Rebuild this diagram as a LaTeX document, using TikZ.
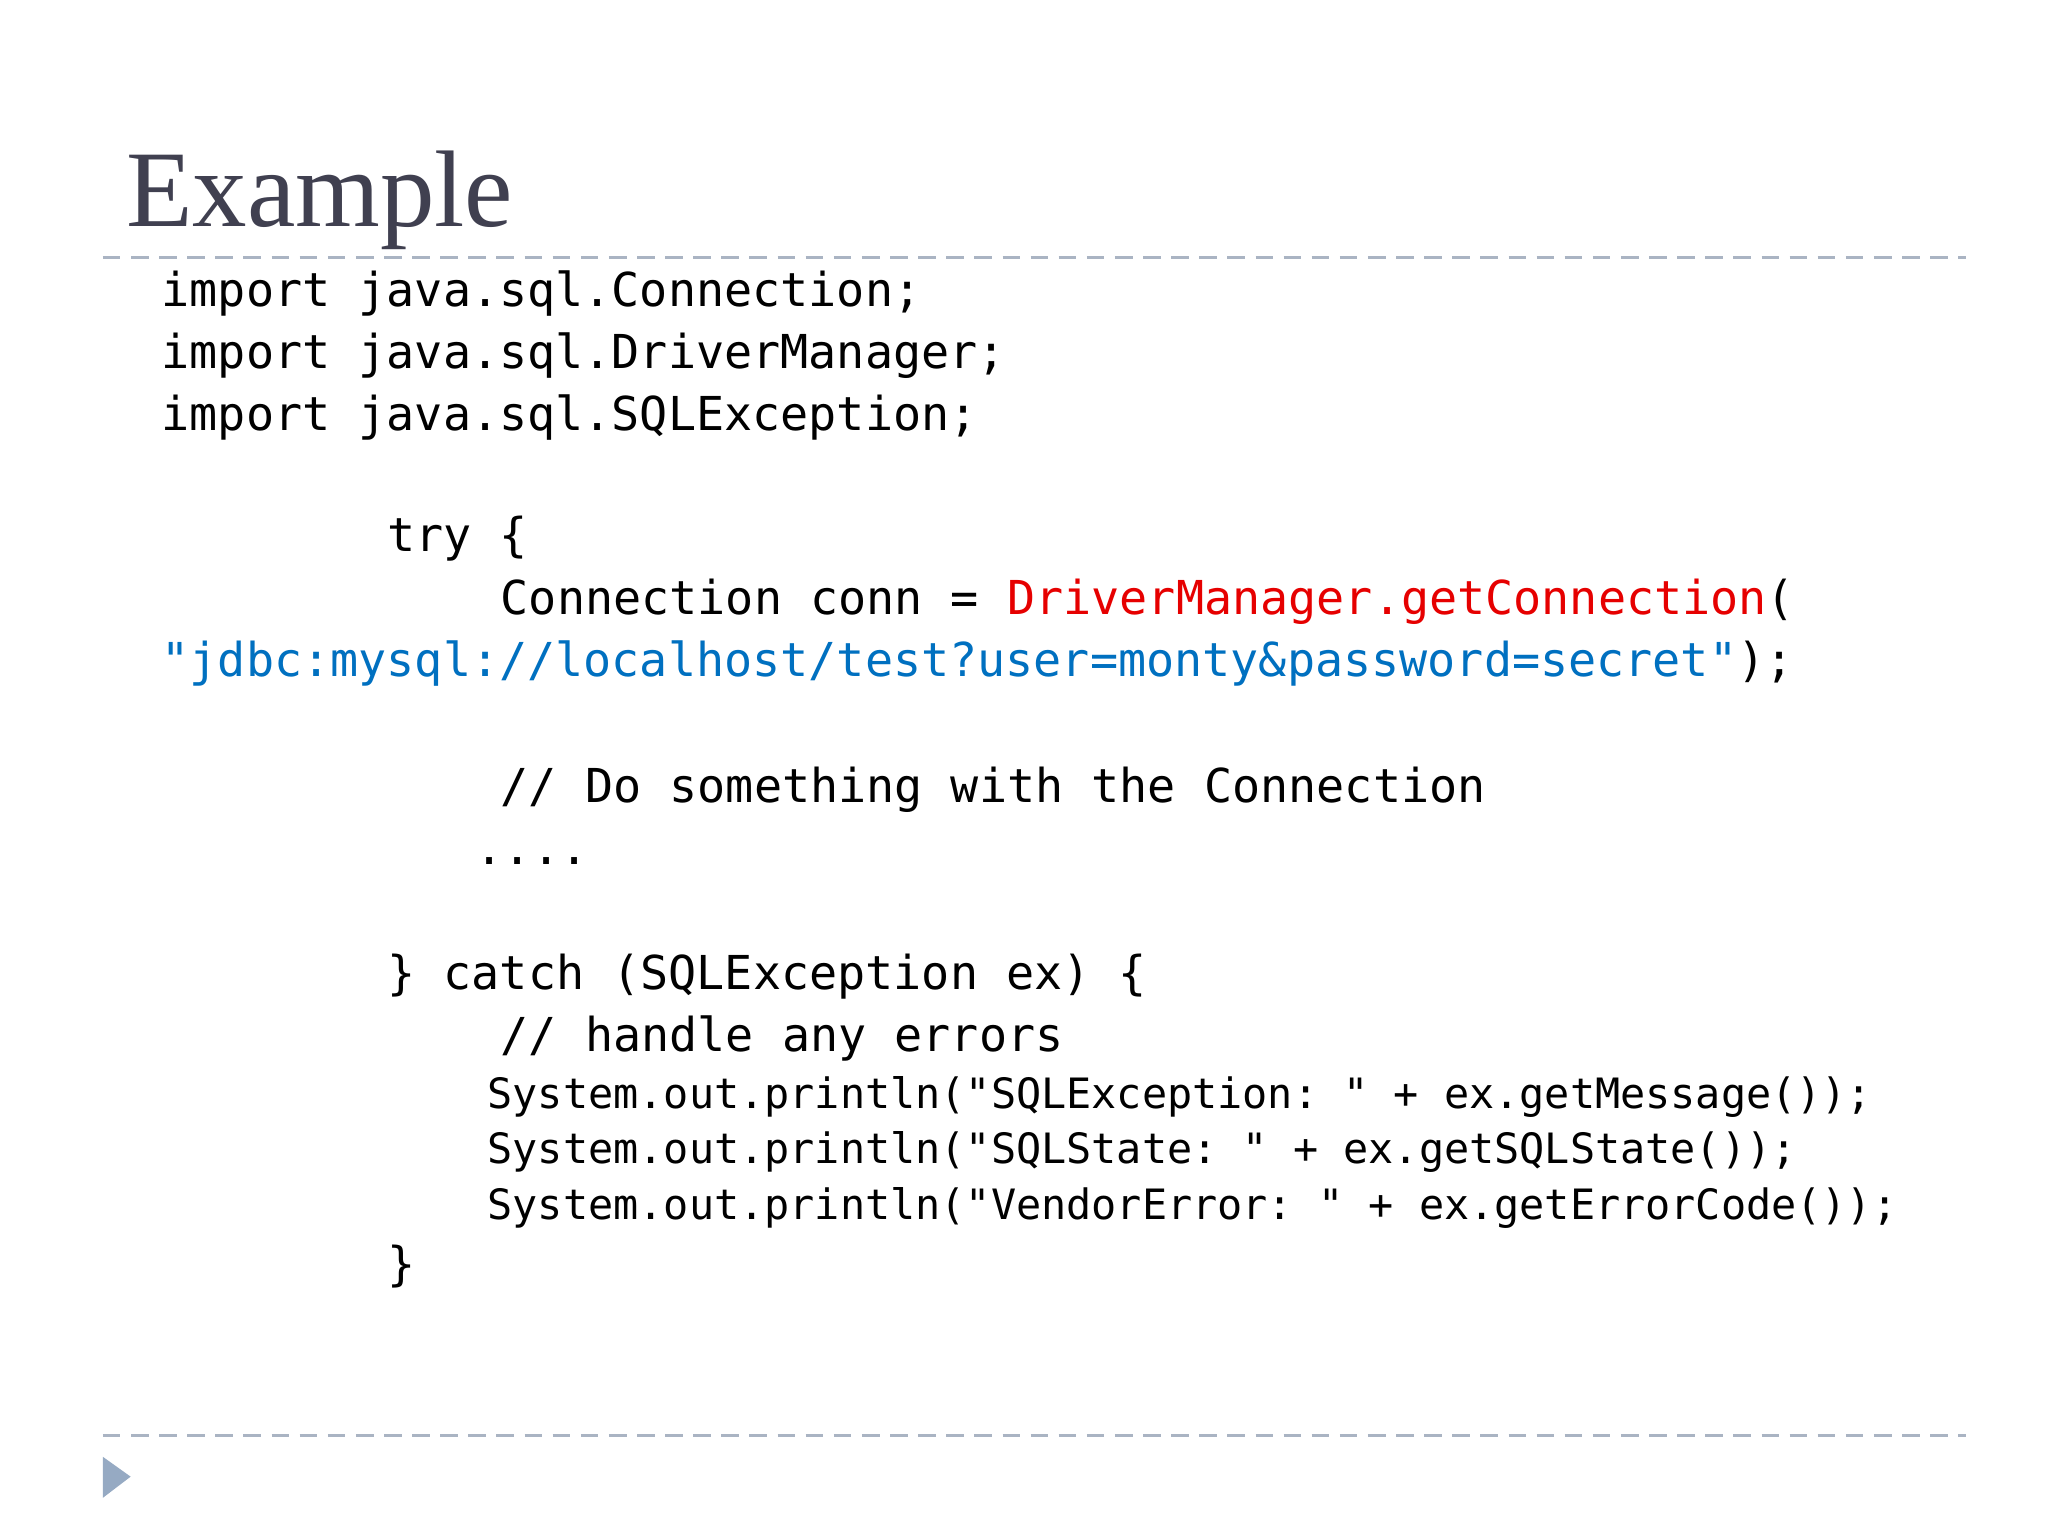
\documentclass[tikz,border=0pt]{standalone}
\usepackage{fontspec}
\setmainfont{Liberation Serif}
\setmonofont{DejaVu Sans Mono}
\definecolor{titlegray}{RGB}{64,64,80}
\definecolor{codered}{RGB}{230,0,0}
\definecolor{codeblue}{RGB}{0,112,192}
\definecolor{dashgray}{RGB}{170,180,195}
\definecolor{tri}{RGB}{150,170,195}
\tikzset{
 code/.style={anchor=base west,inner sep=0pt,font=\ttfamily\fontsize{13.3pt}{16pt}\selectfont},
 codesmall/.style={anchor=base west,inner sep=0pt,font=\ttfamily\fontsize{11.9pt}{14pt}\selectfont},
 rule/.style={dashgray,dash pattern=on 5pt off 3pt,line width=0.8pt}
}
\begin{document}
\begin{tikzpicture}[x=0.013196cm,y=-0.013196cm]
\useasboundingbox[fill=white] (0,0) rectangle (1552,1164);
\node[anchor=base west,inner sep=0pt,text=titlegray,font=\fontsize{31pt}{36pt}\selectfont] (title) at (95,172) {Example};
\coordinate (r1a) at (78,195); \coordinate (r1b) at (1490,195);
\coordinate (r2a) at (78,1088); \coordinate (r2b) at (1490,1088);
\draw[rule] (r1a) -- (r1b);
\draw[rule] (r2a) -- (r2b);
\fill[tri] (78,1104) -- (99,1119) -- (78,1135) -- cycle;
\node[code] (l1) at (122,232) {import java.sql.Connection;};
\node[code] (l2) at (122,279) {import java.sql.DriverManager;};
\node[code] (l3) at (122,326) {import java.sql.SQLException;};
\node[code] (l4) at (293,418) {try \{};
\node[code] (l5) at (379,466) {Connection conn = {\color{codered}DriverManager.getConnection}(};
\node[code] (l6) at (122,513) {{\color{codeblue}"jdbc:mysql://localhost/test?user=monty\&password=secret"});};
\node[code] (l7) at (379,608) {// Do something with the Connection};
\node[code] (l8) at (360,655) {....};
\node[code] (l9) at (293,750) {\} catch (SQLException ex) \{};
\node[code] (l10) at (379,797) {// handle any errors};
\node[codesmall] (l11) at (369,840) {System.out.println("SQLException: " + ex.getMessage());};
\node[codesmall] (l12) at (369,882) {System.out.println("SQLState: " + ex.getSQLState());};
\node[codesmall] (l13) at (369,924) {System.out.println("VendorError: " + ex.getErrorCode());};
\node[code] (l14) at (293,970) {\}};
\end{tikzpicture}
\end{document}
